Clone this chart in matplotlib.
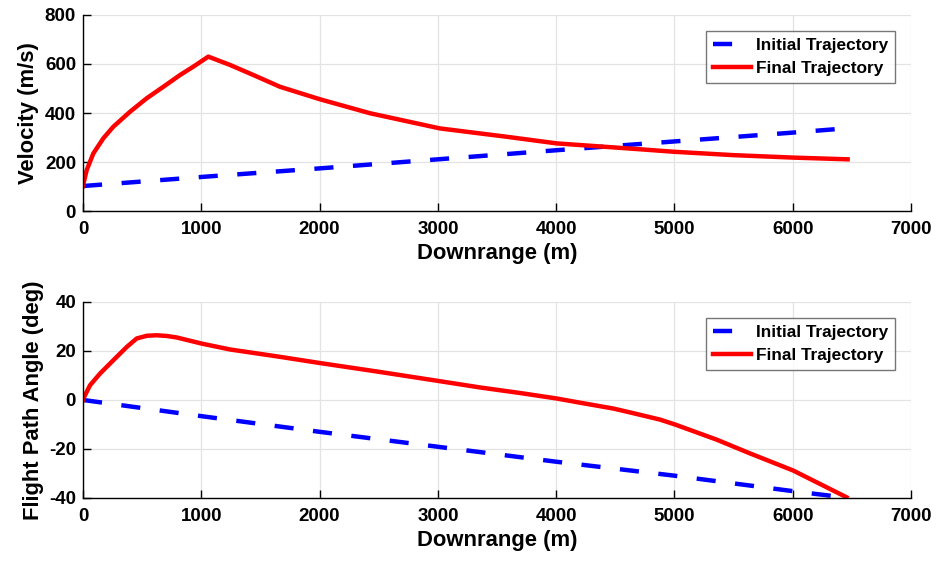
import matplotlib
matplotlib.use('Agg')
import matplotlib.pyplot as plt

# initial (guess) trajectory
range_init = [0, 1000, 2000, 3000, 4000, 5000, 6000, 6440]
vel_init = [102, 139, 174, 211, 248, 284, 320, 337]
fpa_init = [0, -6.6, -13.0, -19.1, -25.2, -30.9, -37.2, -39.8]

# final (optimized) trajectory
range_vel = [0, 3, 31, 87, 172, 256, 397, 538, 679, 820, 932, 1059, 1243, 1440, 1665,
             2003, 2426, 3018, 3582, 4004, 4709, 4990, 5500, 6004, 6464]
vel_final = [102, 110, 167, 235, 297, 344, 405, 460, 507, 555, 589, 630, 596, 555, 507,
             456, 399, 337, 303, 276, 252, 242, 228, 218, 211]

range_fpa = [0, 3, 59, 144, 256, 369, 454, 540, 623, 710, 792, 1003, 1243, 1665, 1998,
             2500, 2998, 3356, 3700, 4004, 4200, 4483, 4652, 4877, 5004, 5357, 5638, 6004, 6455]
fpa_final = [0, 0.6, 6.0, 10.8, 16.2, 21.6, 25.1, 26.2, 26.4, 26.1, 25.5, 23.0, 20.6, 17.6, 15.1,
             11.5, 7.8, 5.1, 2.8, 0.6, -1.1, -3.5, -5.4, -8.0, -10.0, -16.2, -21.8, -28.8, -39.7]

plt.rcParams['font.family'] = ['Liberation Sans', 'DejaVu Sans']
plt.rcParams['font.weight'] = 'bold'
plt.rcParams['axes.labelweight'] = 'bold'
plt.rcParams['axes.unicode_minus'] = False

fig = plt.figure(figsize=(9.49, 5.65), dpi=100)
ax1 = fig.add_axes([0.0875, 0.6265, 0.8725, 0.347])
ax2 = fig.add_axes([0.0875, 0.1186, 0.8725, 0.347])

panels = [
    (ax1, vel_init, range_vel, vel_final, 'Velocity (m/s)', (0, 800), [0, 200, 400, 600, 800]),
    (ax2, fpa_init, range_fpa, fpa_final, 'Flight Path Angle (deg)', (-40, 40), [-40, -20, 0, 20, 40]),
]

for ax, y_init, x_fin, y_fin, ylab, ylim, yticks in panels:
    ax.plot(range_init, y_init, color='#0000ff', lw=3.2, linestyle=(0, (4.3, 4.4)),
            label='Initial Trajectory')
    ax.plot(x_fin, y_fin, color='#ff0000', lw=3.2, label='Final Trajectory',
            solid_joinstyle='round')
    ax.set_xlim(0, 7000)
    ax.set_ylim(*ylim)
    ax.set_xticks(range(0, 7001, 1000))
    ax.set_yticks(yticks)
    ax.grid(True, color='#e3e3e3', lw=0.9)
    ax.set_axisbelow(True)
    for side in ('top', 'right'):
        ax.spines[side].set_visible(False)
    for side in ('left', 'bottom'):
        ax.spines[side].set_linewidth(1.0)
    ax.tick_params(axis='both', direction='in', length=5.5, width=1.0, labelsize=13.5)
    ax.tick_params(axis='x', pad=7)
    ax.tick_params(axis='y', pad=5)
    ax.set_xlabel('Downrange (m)', fontsize=15.8, fontweight='bold', labelpad=4)
    ax.set_ylabel(ylab, fontsize=15.8, fontweight='bold', labelpad=4)
    leg = ax.legend(loc='upper right', bbox_to_anchor=(0.981, 0.92), borderaxespad=0,
                    fontsize=12.4, handlelength=2.2, handletextpad=0.3, frameon=True,
                    fancybox=False, borderpad=0.4, labelspacing=0.5)
    leg.get_frame().set_edgecolor('#555555')
    leg.get_frame().set_linewidth(1.0)

fig.savefig('out.png', dpi=100)
